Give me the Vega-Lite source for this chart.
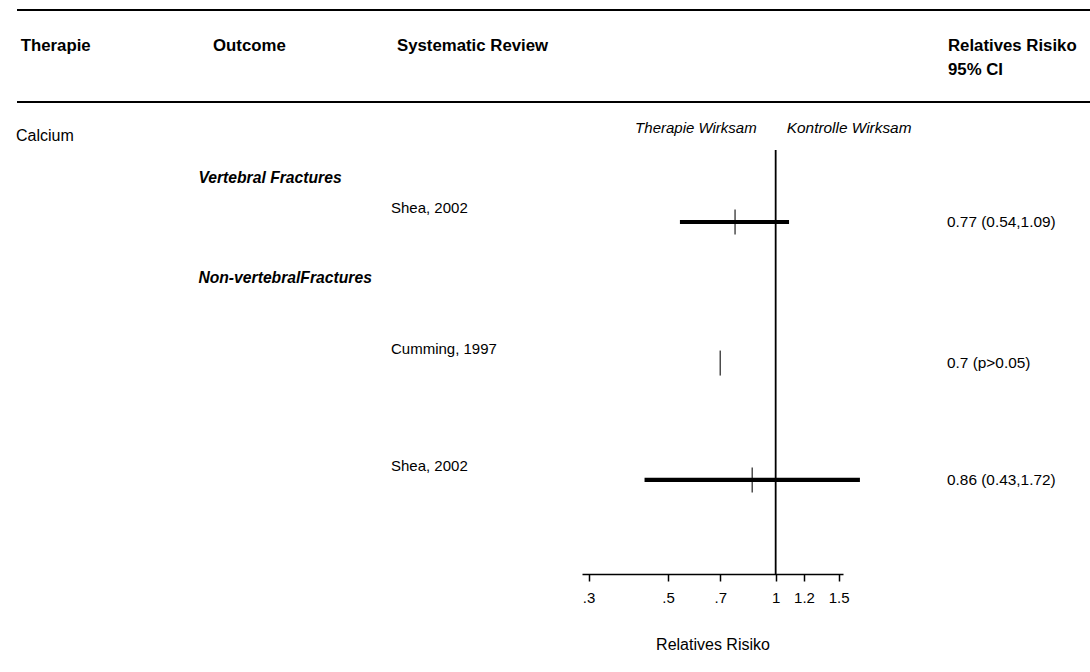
{
  "$schema": "https://vega.github.io/schema/vega-lite/v6.json",
  "width": 1090,
  "height": 574,
  "padding": 0,
  "autosize": {"type": "pad"},
  "background": "white",
  "config": {
    "view": {"stroke": null},
    "text": {"font": "Liberation Sans", "fontSize": 15, "color": "black"},
    "axis": {"labelFont": "Liberation Sans", "titleFont": "Liberation Sans"}
  },
  "data": {"values": [{}]},
  "datasets": {
    "studies": [
      {"outcome": "Vertebral Fractures", "study": "Shea, 2002", "rr": 0.77, "lo": 0.54, "hi": 1.09, "ci": "0.77 (0.54,1.09)", "line": 10.83},
      {"outcome": "Non-vertebralFractures", "study": "Cumming, 1997", "rr": 0.7, "lo": null, "hi": null, "ci": "0.7 (p>0.05)", "line": 17.71},
      {"outcome": "Non-vertebralFractures", "study": "Shea, 2002", "rr": 0.86, "lo": 0.43, "hi": 1.72, "ci": "0.86 (0.43,1.72)", "line": 23.41}
    ],
    "outcomes": [
      {"outcome": "Vertebral Fractures", "line": 8.68},
      {"outcome": "Non-vertebralFractures", "line": 13.56}
    ]
  },
  "resolve": {"scale": {"x": "independent"}},
  "layer": [
    {
      "description": "Forest panel: log relative-risk axis, reference line at 1, confidence intervals and point estimates",
      "layer": [
        {
          "mark": {"type": "rule", "color": "black", "strokeWidth": 1.8},
          "encoding": {
            "x": {
              "datum": 1,
              "type": "quantitative",
              "scale": {"type": "log", "domain": [0.2875, 1.5425], "range": [582, 843], "nice": false, "zero": false},
              "axis": {
                "values": [0.3, 0.5, 0.7, 1, 1.2, 1.5],
                "labelExpr": "datum.value < 1 ? replace(toString(datum.value), '0.', '.') : toString(datum.value)",
                "title": "Relatives Risiko",
                "titleFontSize": 16,
                "titleFontWeight": "normal",
                "titleColor": "black",
                "titlePadding": 31,
                "labelFontSize": 15,
                "labelColor": "black",
                "labelPadding": 9,
                "labelFlush": false,
                "labelOverlap": false,
                "tickSize": 7,
                "tickWidth": 1.5,
                "tickColor": "black",
                "domainColor": "black",
                "domainWidth": 1.5,
                "grid": false
              }
            },
            "y": {"datum": 7.32, "type": "quantitative", "scale": {"domain": [0, 28], "reverse": true, "nice": false, "zero": false}, "axis": null},
            "y2": {"datum": 28}
          }
        },
        {
          "data": {"name": "studies"},
          "transform": [{"filter": "isValid(datum.lo) && isValid(datum.hi)"}],
          "mark": {"type": "rule", "color": "black", "strokeWidth": 4.2},
          "encoding": {
            "x": {"field": "lo", "type": "quantitative"},
            "x2": {"field": "hi"},
            "y": {"field": "line", "type": "quantitative", "axis": null}
          }
        },
        {
          "data": {"name": "studies"},
          "mark": {"type": "tick", "orient": "vertical", "color": "black", "size": 25, "thickness": 1.5},
          "encoding": {
            "x": {"field": "rr", "type": "quantitative"},
            "y": {"field": "line", "type": "quantitative", "axis": null}
          }
        },
        {
          "mark": {"type": "text", "align": "right", "baseline": "middle", "fontStyle": "italic", "text": "Therapie Wirksam"},
          "encoding": {
            "x": {"datum": 0.885, "type": "quantitative"},
            "y": {"datum": 6.24, "type": "quantitative"}
          }
        },
        {
          "mark": {"type": "text", "align": "left", "baseline": "middle", "fontStyle": "italic", "fontSize": 15.4, "text": "Kontrolle Wirksam"},
          "encoding": {
            "x": {"datum": 1.074, "type": "quantitative"},
            "y": {"datum": 6.24, "type": "quantitative"}
          }
        }
      ]
    },
    {
      "description": "Table panel: header rules, column headings and row labels, positioned in percent of the table width",
      "layer": [
        {
          "mark": {"type": "rule", "color": "black", "strokeWidth": 2},
          "encoding": {
            "x": {"datum": 1.56, "type": "quantitative", "scale": {"domain": [0, 100], "nice": false, "zero": false}, "axis": null},
            "x2": {"datum": 100},
            "y": {"datum": 0.49, "type": "quantitative"}
          }
        },
        {
          "mark": {"type": "rule", "color": "black", "strokeWidth": 2},
          "encoding": {
            "x": {"datum": 1.56, "type": "quantitative"},
            "x2": {"datum": 100},
            "y": {"datum": 4.98, "type": "quantitative"}
          }
        },
        {
          "mark": {"type": "text", "align": "left", "baseline": "middle", "fontWeight": "bold", "fontSize": 16.8, "text": "Therapie"},
          "encoding": {"x": {"datum": 1.9, "type": "quantitative"}, "y": {"datum": 2.26, "type": "quantitative"}}
        },
        {
          "mark": {"type": "text", "align": "left", "baseline": "middle", "fontWeight": "bold", "fontSize": 16.8, "text": "Outcome"},
          "encoding": {"x": {"datum": 19.54, "type": "quantitative"}, "y": {"datum": 2.26, "type": "quantitative"}}
        },
        {
          "mark": {"type": "text", "align": "left", "baseline": "middle", "fontWeight": "bold", "fontSize": 16.8, "text": "Systematic Review"},
          "encoding": {"x": {"datum": 36.42, "type": "quantitative"}, "y": {"datum": 2.26, "type": "quantitative"}}
        },
        {
          "mark": {"type": "text", "align": "left", "baseline": "middle", "fontWeight": "bold", "fontSize": 16.8, "text": "Relatives Risiko"},
          "encoding": {"x": {"datum": 86.97, "type": "quantitative"}, "y": {"datum": 2.26, "type": "quantitative"}}
        },
        {
          "mark": {"type": "text", "align": "left", "baseline": "middle", "fontWeight": "bold", "fontSize": 16.8, "text": "95% CI"},
          "encoding": {"x": {"datum": 86.97, "type": "quantitative"}, "y": {"datum": 3.42, "type": "quantitative"}}
        },
        {
          "mark": {"type": "text", "align": "left", "baseline": "middle", "fontSize": 16, "text": "Calcium"},
          "encoding": {"x": {"datum": 1.47, "type": "quantitative"}, "y": {"datum": 6.62, "type": "quantitative"}}
        },
        {
          "data": {"name": "outcomes"},
          "mark": {"type": "text", "align": "left", "baseline": "middle", "fontWeight": "bold", "fontStyle": "italic", "fontSize": 15.7},
          "encoding": {
            "x": {"datum": 18.2, "type": "quantitative"},
            "y": {"field": "line", "type": "quantitative"},
            "text": {"field": "outcome"}
          }
        },
        {
          "data": {"name": "studies"},
          "mark": {"type": "text", "align": "left", "baseline": "middle", "dy": -14},
          "encoding": {
            "x": {"datum": 35.87, "type": "quantitative"},
            "y": {"field": "line", "type": "quantitative"},
            "text": {"field": "study"}
          }
        },
        {
          "data": {"name": "studies"},
          "mark": {"type": "text", "align": "left", "baseline": "middle", "fontSize": 15.4},
          "encoding": {
            "x": {"datum": 86.88, "type": "quantitative"},
            "y": {"field": "line", "type": "quantitative"},
            "text": {"field": "ci"}
          }
        }
      ]
    }
  ]
}
